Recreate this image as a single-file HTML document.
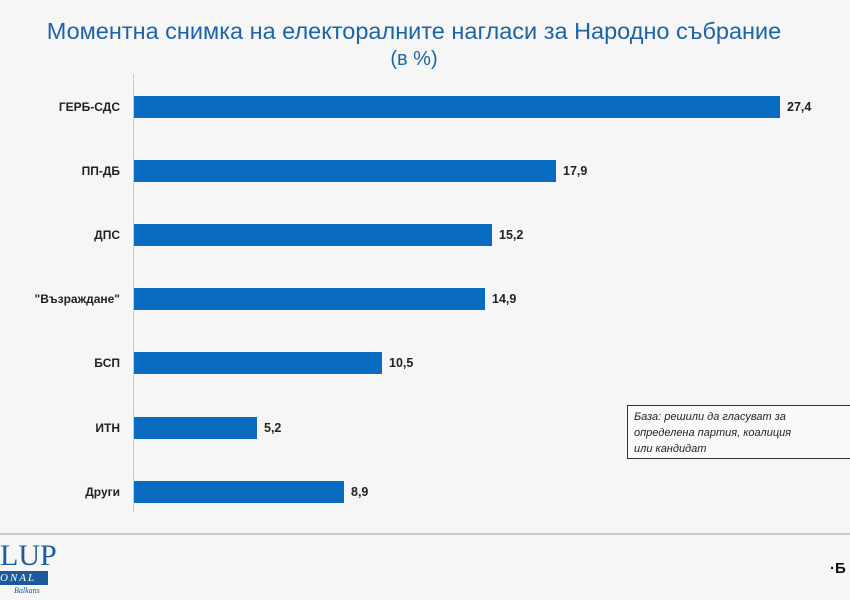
<!DOCTYPE html>
<html><head><meta charset="utf-8"><style>
body{margin:0;width:850px;height:600px;background:#f6f6f6;position:relative;overflow:hidden;font-family:"Liberation Sans","DejaVu Sans",sans-serif}
.t{position:absolute;left:0;width:828px;text-align:center;color:#1e63a8;font-size:23.5px}
.lab{position:absolute;right:730px;font-size:12px;font-weight:bold;color:#222;text-align:right;white-space:nowrap}
.bar{position:absolute;left:134px;height:22px;background:#0a6cc0}
.v{position:absolute;font-size:12.5px;font-weight:bold;color:#222}
</style></head><body>
<div class="t" style="top:18px">Моментна снимка на електоралните нагласи за Народно събрание</div>
<div class="t" style="top:48px;font-size:20px">(в %)</div>
<div style="position:absolute;left:133px;top:74px;width:1px;height:438px;background:#ccc"></div>
<div class="lab" style="top:100px">ГЕРБ-СДС</div><div class="bar" style="top:96px;width:646px"></div><div class="v" style="left:787px;top:100px">27,4</div>
<div class="lab" style="top:164px">ПП-ДБ</div><div class="bar" style="top:160px;width:422px"></div><div class="v" style="left:563px;top:164px">17,9</div>
<div class="lab" style="top:228px">ДПС</div><div class="bar" style="top:224px;width:358px"></div><div class="v" style="left:499px;top:228px">15,2</div>
<div class="lab" style="top:292px">"Възраждане"</div><div class="bar" style="top:288px;width:351px"></div><div class="v" style="left:492px;top:292px">14,9</div>
<div class="lab" style="top:356px">БСП</div><div class="bar" style="top:352px;width:248px"></div><div class="v" style="left:389px;top:356px">10,5</div>
<div class="lab" style="top:421px">ИТН</div><div class="bar" style="top:417px;width:123px"></div><div class="v" style="left:264px;top:421px">5,2</div>
<div class="lab" style="top:485px">Други</div><div class="bar" style="top:481px;width:210px"></div><div class="v" style="left:351px;top:485px">8,9</div>
<div style="position:absolute;left:627px;top:405px;width:230px;height:54px;border:1.5px solid #333;background:#fafafa;box-sizing:border-box;padding:3px 6px;font-size:11px;font-style:italic;line-height:16px;color:#222">База: решили да гласуват за<br>определена партия, коалиция<br>или кандидат</div>
<div style="position:absolute;left:0;top:533px;width:850px;height:2px;background:#ccc"></div>
<div style="position:absolute;left:0;top:541px;font-family:'Liberation Serif',serif;font-size:30px;color:#1d5a9c;line-height:30px">LUP</div>
<div style="position:absolute;left:0;top:571px;width:48px;height:14px;background:#1d5a9c;color:#fff;font-family:'Liberation Serif',serif;font-style:italic;font-size:11px;letter-spacing:2px;line-height:14px">ONAL</div>
<div style="position:absolute;left:14px;top:586px;font-family:'Liberation Serif',serif;font-style:italic;font-size:8px;color:#1d5a9c">Balkans</div>
<div style="position:absolute;left:830px;top:560px;font-size:15px;font-weight:bold;color:#111">·Б</div>
</body></html>
